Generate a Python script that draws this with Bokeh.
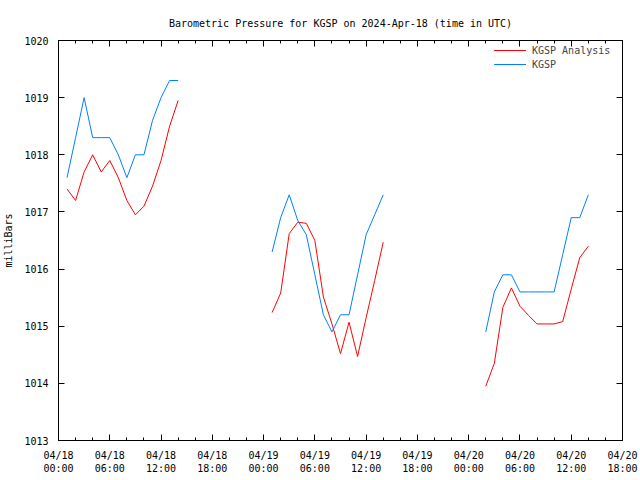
import calendar
import datetime as dt

from bokeh.embed import file_html
from bokeh.resources import INLINE
from bokeh.plotting import figure
from bokeh.models import (FixedTicker, DatetimeTickFormatter, LinearAxis,
                          DatetimeAxis, Legend, LegendItem, Range1d)

# ---------------- data (hours after 2024-04-18 00:00 UTC) ----------------
hours_1 = [1, 2, 3, 4, 5, 6, 7, 8, 9, 10, 11, 12, 13, 14]
hours_2 = [25, 26, 27, 28, 29, 30, 31, 32, 33, 34, 35, 36, 37, 38]
hours_3 = [50, 51, 52, 53, 54, 55, 56, 57, 58, 59, 60, 61, 62]

analysis_1 = [1017.4, 1017.2, 1017.7, 1018.0, 1017.7, 1017.9, 1017.6,
              1017.2, 1016.95, 1017.1, 1017.45, 1017.9, 1018.5, 1018.95]
kgsp_1 = [1017.6, 1018.3, 1019.0, 1018.3, 1018.3, 1018.3, 1018.0,
          1017.6, 1018.0, 1018.0, 1018.6, 1019.0, 1019.3, 1019.3]

analysis_2 = [1015.24, 1015.58, 1016.62, 1016.82, 1016.8, 1016.5, 1015.51,
              1015.04, 1014.52, 1015.07, 1014.47, 1015.15, 1015.8, 1016.47]
kgsp_2 = [1016.3, 1016.9, 1017.3, 1016.85, 1016.6, 1015.9, 1015.2,
          1014.9, 1015.2, 1015.2, 1015.9, 1016.6, 1016.95, 1017.3]

analysis_3 = [1013.95, 1014.35, 1015.33, 1015.67, 1015.35, 1015.19, 1015.04,
              1015.04, 1015.04, 1015.08, 1015.65, 1016.2, 1016.4]
kgsp_3 = [1014.9, 1015.6, 1015.9, 1015.9, 1015.6, 1015.6, 1015.6,
          1015.6, 1015.6, 1016.25, 1016.9, 1016.9, 1017.3]

y_ticks = [1013, 1014, 1015, 1016, 1017, 1018, 1019, 1020]
major_step_h = 6
minor_step_h = 2
span_h = 66

title_text = "Barometric Pressure for KGSP on 2024-Apr-18 (time in UTC)"
series_names = ["KGSP Analysis", "KGSP"]
series_colors = ["#ff0000", "#0080ff"]

# ---------------- helpers ----------------
base = dt.datetime(2024, 4, 18)
base_ms = calendar.timegm(base.timetuple()) * 1000.0
HOUR_MS = 3600 * 1000.0


def to_time(hs):
    return [base + dt.timedelta(hours=h) for h in hs]


FONT = "DejaVu Sans Mono"
FS = "10px"

p = figure(frame_width=564, frame_height=400, x_axis_type="datetime",
           output_backend="svg", toolbar_location=None,
           x_range=Range1d(base, base + dt.timedelta(hours=span_h)),
           y_range=Range1d(y_ticks[0], y_ticks[-1]),
           min_border_left=58, min_border_right=18,
           min_border_top=40, min_border_bottom=38)

p.title.text = title_text
p.title.align = "center"
p.title.text_font = FONT
p.title.text_font_size = FS
p.title.text_font_style = "normal"
p.title.text_color = "black"
p.title.standoff = 24

p.xgrid.visible = False
p.ygrid.visible = False
p.outline_line_color = "black"
p.outline_line_width = 1
p.background_fill_color = "white"
p.border_fill_color = "white"

x_ticker = FixedTicker(
    ticks=[base_ms + h * HOUR_MS for h in range(0, span_h + 1, major_step_h)],
    minor_ticks=[base_ms + h * HOUR_MS for h in range(0, span_h + 1, minor_step_h)])
y_ticker = FixedTicker(ticks=y_ticks, minor_ticks=[])

fmt = DatetimeTickFormatter(hours="%m/%d\n%H:%M", days="%m/%d\n%H:%M",
                            hourmin="%m/%d\n%H:%M", minutes="%m/%d\n%H:%M",
                            months="%m/%d\n%H:%M")


def style_axis(ax, show_labels=True):
    ax.axis_line_color = "black"
    ax.major_tick_in = 6
    ax.major_tick_out = 0
    ax.minor_tick_in = 3
    ax.minor_tick_out = 0
    ax.major_tick_line_color = "black"
    ax.minor_tick_line_color = "black"
    ax.major_label_text_font = FONT
    ax.major_label_text_font_size = FS if show_labels else "0px"
    ax.major_label_text_color = "black"


xa = p.xaxis[0]
xa.ticker = x_ticker
xa.formatter = fmt
style_axis(xa)
xa.major_label_standoff = 9

ya = p.yaxis[0]
ya.ticker = y_ticker
style_axis(ya)
ya.major_label_standoff = 10
ya.axis_label = "milliBars"
ya.axis_label_text_font = FONT
ya.axis_label_text_font_size = FS
ya.axis_label_text_font_style = "normal"
ya.axis_label_text_color = "black"
ya.axis_label_standoff = 7

right = LinearAxis(ticker=y_ticker)
style_axis(right, show_labels=False)
right.major_label_standoff = 0
p.add_layout(right, "right")

top = DatetimeAxis(ticker=x_ticker, formatter=fmt)
style_axis(top, show_labels=False)
top.major_label_standoff = 0
p.add_layout(top, "above")

# ---------------- series ----------------
segments = [(hours_1, analysis_1, kgsp_1),
            (hours_2, analysis_2, kgsp_2),
            (hours_3, analysis_3, kgsp_3)]
an_renderers, kg_renderers = [], []
for hs, an, kg in segments:
    t = to_time(hs)
    an_renderers.append(p.line(t, an, line_color=series_colors[0], line_width=1))
    kg_renderers.append(p.line(t, kg, line_color=series_colors[1], line_width=1))

legend = Legend(items=[LegendItem(label=series_names[0], renderers=an_renderers),
                       LegendItem(label=series_names[1], renderers=kg_renderers)],
                location=(436, 370))
legend.label_text_font = FONT
legend.label_text_font_size = FS
legend.border_line_color = None
legend.background_fill_alpha = 0
legend.glyph_width = 32
legend.glyph_height = 12
legend.label_height = 12
legend.spacing = 2
legend.padding = 2
legend.margin = 0
legend.label_standoff = 6
p.add_layout(legend)

open("out.html", "w").write(file_html(p, INLINE))
